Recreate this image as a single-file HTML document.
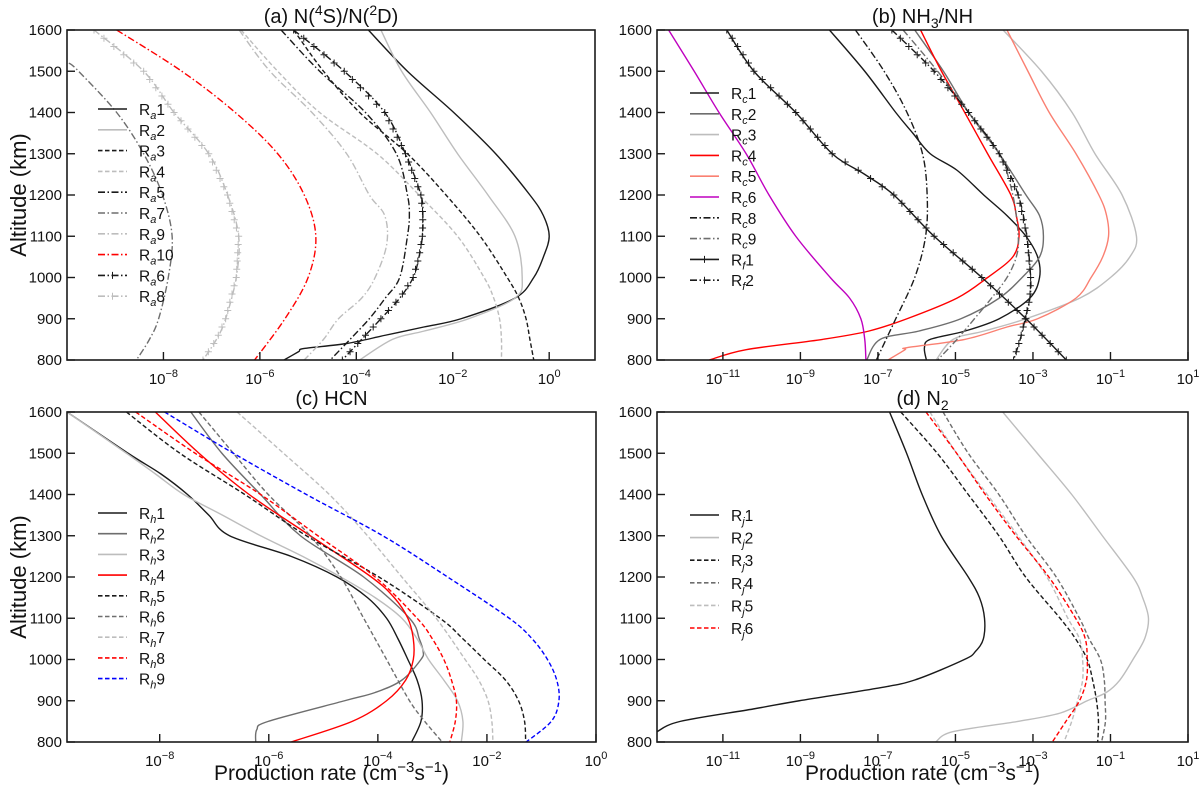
<!DOCTYPE html>
<html><head><meta charset="utf-8"><style>
html,body{margin:0;padding:0;background:#fff}
svg{display:block;font-family:"Liberation Sans","DejaVu Sans",sans-serif}
</style></head><body>
<svg id="chart" width="1200" height="786" viewBox="0 0 1200 786" xmlns="http://www.w3.org/2000/svg"></svg>
<script>
// ---- shared altitude grids ----
const altStd = [1600,1500,1400,1300,1200,1100,1000,900,800];
// ---- panel (a) N(4S)/N(2D) : log10 production rates ----
const ra1Alt = [1600,1500,1400,1300,1200,1150,1100,1050,1000,950,900,880,860,840,828,820,800];
const ra1Val = [-3.75,-2.94,-1.98,-1.11,-0.40,-0.12,0,-0.12,-0.32,-0.71,-1.83,-2.6,-3.4,-4.2,-5.08,-5.2,-5.5];
const ra2Alt = [1600,1500,1400,1300,1200,1100,1000,950,900,870,850,800];
const ra2Val = [-3.49,-3.06,-2.46,-1.9,-1.27,-0.71,-0.56,-0.71,-1.67,-2.6,-3.25,-3.93];
const ra3Alt = [1600,1500,1400,1300,1200,1100,1000,950,900,850,800];
const ra3Val = [-5.3,-4.68,-3.93,-2.94,-2.14,-1.43,-0.87,-0.63,-0.48,-0.40,-0.32];
const ra4Alt = [1600,1500,1400,1300,1200,1100,1000,950,900,850,800];
const ra4Val = [-6.39,-5.63,-4.76,-3.57,-2.70,-1.9,-1.35,-1.15,-1.03,-0.99,-0.99];
const ra5Alt = [1600,1500,1400,1300,1200,1150,1100,1000,950,900,850,800];
const ra5Val = [-5.56,-4.76,-3.81,-3.17,-2.94,-2.9,-2.94,-3.1,-3.4,-3.73,-4.13,-4.54];
const ra6Alt = [1600,1500,1400,1300,1200,1150,1100,1050,1000,950,900,850,800];
const ra6Val = [-5.3,-4.25,-3.41,-2.98,-2.66,-2.62,-2.63,-2.7,-2.82,-3.1,-3.49,-3.89,-4.29];
const ra7Alt = [1520,1500,1400,1300,1200,1100,1000,900,850,800];
const ra7Val = [-9.96,-9.76,-8.97,-8.41,-8.02,-7.82,-7.9,-8.1,-8.29,-8.56];
const ra8Alt = [1600,1500,1400,1300,1200,1100,1000,900,850,800];
const ra8Val = [-9.44,-8.41,-7.78,-7.06,-6.67,-6.44,-6.49,-6.71,-6.9,-7.18];
const ra9Alt = [1600,1500,1400,1300,1200,1150,1080,1000,950,900,850,800];
const ra9Val = [-6.43,-5.79,-4.92,-4.2,-3.73,-3.41,-3.37,-3.61,-3.89,-4.37,-4.68,-5.08];
const ra10Val = [-8.97,-7.62,-6.51,-5.63,-5.08,-4.84,-5.0,-5.48,-6.11];
// ---- panel (b) NH3/NH ----
const rc1Alt = [1600,1500,1400,1350,1300,1260,1200,1150,1100,1050,1000,950,900,870,850,830,800];
const rc1Val = [-8.25,-7.34,-6.54,-6.1,-5.65,-4.96,-4.27,-3.67,-3.18,-2.88,-2.83,-3.08,-3.87,-4.76,-5.65,-5.8,-5.75];
const rc2Alt = [1600,1500,1400,1300,1200,1150,1100,1050,1000,950,900,870,850,800];
const rc2Val = [-6.05,-5.31,-4.66,-3.87,-3.18,-2.83,-2.73,-2.83,-3.28,-3.87,-4.86,-5.95,-6.94,-7.29];
const rc3Alt = [1600,1500,1400,1300,1200,1100,1050,1000,950,900,870,850,800];
const rc3Val = [-3.77,-2.78,-1.99,-1.4,-0.7,-0.33,-0.5,-1.0,-1.79,-3.18,-4.27,-5.06,-5.5];
const rc4Alt = [1600,1500,1400,1300,1200,1150,1100,1050,1000,950,900,870,850,825,800];
const rc4Val = [-5.9,-5.36,-4.76,-4.17,-3.57,-3.43,-3.36,-3.52,-4.17,-4.96,-6.25,-7.24,-8.43,-10.4,-11.35];
const rc5Alt = [1600,1500,1400,1300,1200,1150,1100,1050,1000,950,900,880,850,830,825,800];
const rc5Val = [-3.67,-3.13,-2.58,-1.89,-1.3,-1.1,-1.05,-1.2,-1.5,-1.89,-2.88,-3.67,-4.76,-6.25,-6.3,-6.74];
const rc6Alt = [1600,1500,1400,1300,1200,1100,1000,950,900,850,800];
const rc6Val = [-12.4,-11.74,-11.1,-10.4,-9.81,-9.12,-8.23,-7.73,-7.44,-7.34,-7.31];
const rc8Alt = [1600,1500,1400,1300,1200,1100,1000,900,850,800];
const rc8Val = [-7.58,-6.84,-6.25,-5.85,-5.73,-5.77,-6.05,-6.54,-6.79,-7.04];
const rc9Alt = [1600,1500,1400,1300,1200,1100,1050,1000,950,900,850,800];
const rc9Val = [-6.35,-5.46,-4.66,-3.87,-3.52,-3.38,-3.43,-3.67,-4.07,-4.51,-4.96,-5.46];
const rf1Alt = [1600,1500,1400,1300,1250,1200,1100,1000,900,800];
const rf1Val = [-10.9,-10.2,-9.12,-8.18,-7.34,-6.59,-5.55,-4.32,-3.18,-2.14];
const rf2Alt = [1600,1500,1400,1300,1200,1100,1000,950,900,850,800];
const rf2Val = [-6.64,-5.55,-4.66,-3.87,-3.38,-3.16,-3.06,-3.08,-3.2,-3.33,-3.5];
// ---- panel (c) HCN ----
const rhAlt = [1600,1500,1450,1400,1350,1300,1250,1200,1150,1100,1050,1000,950,900,850,800];
const rh1Val = [-9.7,-8.58,-7.98,-7.49,-7.1,-6.72,-5.59,-4.75,-4.19,-3.84,-3.63,-3.45,-3.28,-3.19,-3.21,-3.38];
const rh3Val = [-9.7,-8.61,-8.08,-7.56,-6.85,-6.15,-5.38,-4.68,-4.05,-3.56,-3.28,-3.07,-2.79,-2.54,-2.44,-2.47];
const rh2Alt = [1600,1500,1400,1300,1200,1100,1050,1020,1000,950,920,900,850,830,800];
const rh2Val = [-7.43,-6.86,-6.15,-5.42,-4.26,-3.42,-3.24,-3.17,-3.21,-3.56,-4.05,-4.61,-6.01,-6.22,-6.24];
const rh4Alt = [1600,1500,1400,1300,1200,1150,1100,1050,1000,950,900,850,800];
const rh4Val = [-8.08,-7.28,-6.36,-5.24,-4.12,-3.7,-3.45,-3.35,-3.35,-3.49,-3.84,-4.47,-5.59];
const rh5Alt = [1600,1500,1400,1300,1200,1100,1050,1000,950,900,850,800];
const rh5Val = [-8.61,-7.63,-6.44,-5.31,-3.98,-2.86,-2.44,-2.05,-1.66,-1.42,-1.31,-1.29];
const rh6Alt = [1600,1500,1400,1300,1200,1100,1000,900,850,800];
const rh6Val = [-7.28,-6.65,-6.01,-5.24,-4.68,-4.26,-3.84,-3.42,-3.14,-2.82];
const rh7Alt = [1600,1500,1400,1300,1200,1100,1000,950,900,850,800];
const rh7Val = [-6.58,-5.73,-4.89,-4.19,-3.56,-2.93,-2.4,-2.15,-1.98,-1.91,-1.89];
const rh8Alt = [1600,1500,1400,1300,1200,1100,1050,1000,950,900,850,800];
const rh8Val = [-8.44,-7.35,-6.15,-5.1,-4.05,-3.28,-3.0,-2.79,-2.65,-2.56,-2.58,-2.68];
const rh9Alt = [1600,1500,1400,1300,1200,1100,1050,1000,950,900,850,800];
const rh9Val = [-7.91,-6.65,-5.31,-3.91,-2.72,-1.59,-1.17,-0.89,-0.72,-0.68,-0.82,-1.28];
// ---- panel (d) N2 ----
const rj1Alt = [1600,1500,1400,1300,1200,1150,1100,1050,1020,1000,950,930,900,880,850,825];
const rj1Val = [-6.7,-6.26,-5.86,-5.37,-4.67,-4.38,-4.25,-4.28,-4.48,-4.77,-6.06,-7.05,-9.03,-10.22,-12.1,-12.7];
const rj2Alt = [1600,1500,1400,1300,1200,1150,1100,1050,1000,950,920,900,870,850,825,800];
const rj2Val = [-3.78,-2.89,-2.0,-1.21,-0.42,-0.17,-0.02,-0.12,-0.42,-0.76,-1.11,-1.6,-2.3,-3.39,-5.07,-5.51];
const rjAlt = [1600,1500,1400,1300,1200,1100,1050,1000,950,900,850,800];
const rj3Val = [-6.41,-5.47,-4.67,-3.88,-3.19,-2.3,-1.9,-1.6,-1.46,-1.36,-1.31,-1.33];
const rj4Val = [-5.32,-4.67,-3.88,-3.19,-2.4,-1.8,-1.55,-1.26,-1.16,-1.14,-1.13,-1.23];
const rj5Val = [-5.66,-4.97,-4.18,-3.39,-2.64,-2.1,-1.8,-1.72,-1.72,-1.85,-2.0,-2.2];
const rj6Val = [-5.76,-4.97,-4.23,-3.44,-2.59,-1.9,-1.65,-1.6,-1.62,-1.8,-2.15,-2.5];
// ---- tick labels ----
const yTicks = [800,900,1000,1100,1200,1300,1400,1500,1600];
const xTicksAC = [-8,-6,-4,-2,0];
const xTicksBD = [-11,-9,-7,-5,-3,-1,1];

const BLK='#1a1a1a', DG='#6e6e6e', LG='#bdbdbd', RED='#ff0000', SAL='#fa8072', MAG='#bf00bf', BLU='#0000ff';
const SOLID=null, DASH='4.5,2.5', DD='7,2.5,1.5,2.5';

const panels = [
 {id:'a', title:['(a) N(','4','S)/N(','2','D)'], x0:67,x1:595,y0:30,y1:360, lmin:-10,lmax:0.95, ticks:xTicksAC, xtitle:false, ytitle:true,
  legX:98, legY:109, legDy:20.8, sub:'a', series:[
  ['1',ra1Alt,ra1Val,BLK,SOLID,false],['2',ra2Alt,ra2Val,LG,SOLID,false],['3',ra3Alt,ra3Val,BLK,DASH,false],
  ['4',ra4Alt,ra4Val,LG,DASH,false],['5',ra5Alt,ra5Val,BLK,DD,false],['7',ra7Alt,ra7Val,DG,DD,false],
  ['9',ra9Alt,ra9Val,LG,DD,false],['10',altStd,ra10Val,RED,DD,false],['6',ra6Alt,ra6Val,BLK,DD,true],['8',ra8Alt,ra8Val,LG,DD,true]]},
 {id:'b', title:['(b) NH','3s','/NH'], x0:657,x1:1188,y0:30,y1:360, lmin:-12.7,lmax:1, ticks:xTicksBD, xtitle:false, ytitle:false,
  legX:690, legY:93, legDy:20.8, sub:'c', series:[
  ['1',rc1Alt,rc1Val,BLK,SOLID,false],['2',rc2Alt,rc2Val,DG,SOLID,false],['3',rc3Alt,rc3Val,LG,SOLID,false],
  ['4',rc4Alt,rc4Val,RED,SOLID,false],['5',rc5Alt,rc5Val,SAL,SOLID,false],['6',rc6Alt,rc6Val,MAG,SOLID,false],
  ['8',rc8Alt,rc8Val,BLK,DD,false],['9',rc9Alt,rc9Val,DG,DD,false],['1',rf1Alt,rf1Val,BLK,SOLID,true,'f'],['2',rf2Alt,rf2Val,BLK,DD,true,'f']]},
 {id:'c', title:['(c) HCN'], x0:67,x1:596,y0:412,y1:742, lmin:-9.7,lmax:0, ticks:xTicksAC, xtitle:true, ytitle:true,
  legX:98, legY:513, legDy:20.7, sub:'h', series:[
  ['1',rhAlt,rh1Val,BLK,SOLID,false],['2',rh2Alt,rh2Val,DG,SOLID,false],['3',rhAlt,rh3Val,LG,SOLID,false],
  ['4',rh4Alt,rh4Val,RED,SOLID,false],['5',rh5Alt,rh5Val,BLK,DASH,false],['6',rh6Alt,rh6Val,DG,DASH,false],
  ['7',rh7Alt,rh7Val,LG,DASH,false],['8',rh8Alt,rh8Val,RED,DASH,false],['9',rh9Alt,rh9Val,BLU,DASH,false]]},
 {id:'d', title:['(d) N','2s'], x0:657,x1:1188,y0:412,y1:742, lmin:-12.7,lmax:1, ticks:xTicksBD, xtitle:true, ytitle:false,
  legX:690, legY:515, legDy:22.6, sub:'j', series:[
  ['1',rj1Alt,rj1Val,BLK,SOLID,false],['2',rj2Alt,rj2Val,LG,SOLID,false],['3',rjAlt,rj3Val,BLK,DASH,false],
  ['4',rjAlt,rj4Val,DG,DASH,false],['5',rjAlt,rj5Val,LG,DASH,false],['6',rjAlt,rj6Val,RED,DASH,false]]}
];

const NS='http://www.w3.org/2000/svg';
const svg=document.getElementById('chart');
function mk(tag,attrs,parent){const e=document.createElementNS(NS,tag);for(const k in attrs)e.setAttribute(k,attrs[k]);(parent||svg).appendChild(e);return e;}

function interp(alts,vals,a){
  for(let i=0;i<alts.length-1;i++){const a0=alts[i],a1=alts[i+1];
    if((a<=a0&&a>=a1)){const t=(a-a0)/(a1-a0);return vals[i]+t*(vals[i+1]-vals[i]);}}
  return null;
}
function smoothPath(pts){
  let d='M'+pts[0][0].toFixed(2)+','+pts[0][1].toFixed(2);
  for(let i=0;i<pts.length-1;i++){
    const p0=pts[Math.max(0,i-1)],p1=pts[i],p2=pts[i+1],p3=pts[Math.min(pts.length-1,i+2)];
    const c1=[p1[0]+(p2[0]-p0[0])/6,p1[1]+(p2[1]-p0[1])/6],c2=[p2[0]-(p3[0]-p1[0])/6,p2[1]-(p3[1]-p1[1])/6];
    d+=' C'+c1[0].toFixed(2)+','+c1[1].toFixed(2)+' '+c2[0].toFixed(2)+','+c2[1].toFixed(2)+' '+p2[0].toFixed(2)+','+p2[1].toFixed(2);
  }
  return d;
}

panels.forEach(p=>{
  const g=mk('g',{});
  
  
  const xs=v=>p.x0+(v-p.lmin)/(p.lmax-p.lmin)*(p.x1-p.x0);
  const ys=a=>p.y1-(a-800)/800*(p.y1-p.y0);
  const cid='clip'+p.id;
  const cp=mk('clipPath',{id:cid},g);mk('rect',{x:p.x0,y:p.y0,width:p.x1-p.x0,height:p.y1-p.y0},cp);
  const sg=mk('g',{'clip-path':'url(#'+cid+')'},g);
  p.series.forEach(s=>{
    const [lab,alts,vals,col,dash,mark,subl]=s;
    const pts=alts.map((a,i)=>[xs(vals[i]),ys(a)]);
    const path=mk('path',{d:smoothPath(pts),fill:'none',stroke:col,'stroke-width':1.4});
    if(dash)path.setAttribute('stroke-dasharray',dash);
    
    
    if(mark){
      for(let a=alts[0];a>=alts[alts.length-1];a-=20){
        const v=interp(alts,vals,a);if(v===null)continue;
        const cx=xs(v),cy=ys(a);
        const m=mk('path',{d:`M${cx-3.5},${cy}H${cx+3.5}M${cx},${cy-3.5}V${cy+3.5}`,stroke:col,'stroke-width':1},sg);
        
        
      }
    }
    sg.appendChild(path);
  });
  const fr=mk('rect',{x:p.x0,y:p.y0,width:p.x1-p.x0,height:p.y1-p.y0,fill:'none',stroke:'#1a1a1a','stroke-width':1.6},g);
  
  
  yTicks.forEach(t=>{
    const y=ys(t);
    mk('line',{x1:p.x0,x2:p.x0+8,y1:y,y2:y,stroke:'#1a1a1a','stroke-width':1.4},g);
    const tx=mk('text',{x:p.x0-5,y:y+5,'text-anchor':'end','font-size':15,fill:'#111'},g);
    tx.textContent=t;
    
    
  });
  p.ticks.forEach(t=>{
    const x=xs(t);
    mk('line',{x1:x,x2:x,y1:p.y1,y2:p.y1-8,stroke:'#1a1a1a','stroke-width':1.4},g);
    const tx=mk('text',{x:x,y:p.y1+24,'text-anchor':'middle','font-size':15,fill:'#111'},g);
    
    
    const a=mk('tspan',{},tx);a.textContent='10';
    const b=mk('tspan',{dy:-7,'font-size':11},tx);b.textContent=(t<0?'\u2212'+(-t):String(t));
  });
  const tt=mk('text',{x:(p.x0+p.x1)/2,y:p.y0-7,'text-anchor':'middle','font-size':20,fill:'#111'},g);
  
  
  let shift=0;
  p.title.forEach((part,i)=>{
    if(part.endsWith('s')&&/^\d/.test(part)){const s=mk('tspan',{dy:5,'font-size':14},tt);s.textContent=part.slice(0,-1);shift=-5;return;}
    if(/^\d$/.test(part)){const s=mk('tspan',{dy:-8,'font-size':14},tt);s.textContent=part;shift=8;return;}
    const s=mk('tspan',{dy:shift},tt);s.textContent=part;shift=0;
  });
  if(p.ytitle){
    const cy=(p.y0+p.y1)/2;
    const yt=mk('text',{x:0,y:0,transform:`translate(26,${cy}) rotate(-90)`,'text-anchor':'middle','font-size':22,fill:'#111'},g);
    yt.textContent='Altitude (km)';
    
    
  }
  if(p.xtitle){
    const xt=mk('text',{x:(p.x0+p.x1)/2,y:780,'text-anchor':'middle','font-size':21,fill:'#111'},g);
    
    
    const a=mk('tspan',{},xt);a.textContent='Production rate (cm';
    const b=mk('tspan',{dy:-8,'font-size':15},xt);b.textContent='\u22123';
    const c=mk('tspan',{dy:8},xt);c.textContent='s';
    const d=mk('tspan',{dy:-8,'font-size':15},xt);d.textContent='\u22121';
    const e=mk('tspan',{dy:8},xt);e.textContent=')';
  }
  const lg=mk('g',{},g);
  
  
  p.series.forEach((s,i)=>{
    const [lab,,,col,dash,mark,subl]=s;
    const y=p.legY+i*p.legDy;
    const eg=mk('g',{},lg);
    
    
    const ln=mk('line',{x1:p.legX,x2:p.legX+29,y1:y,y2:y,stroke:col,'stroke-width':1.6},eg);
    if(dash)ln.setAttribute('stroke-dasharray',dash);
    if(mark)mk('path',{d:`M${p.legX+14.5},${y-3.5}V${y+3.5}`,stroke:col,'stroke-width':1},eg);
    const tx=mk('text',{x:p.legX+41,y:y+6,'font-size':15.5,fill:'#111'},eg);
    const a=mk('tspan',{},tx);a.textContent='R';
    const b=mk('tspan',{dy:4,'font-size':11,'font-style':'italic'},tx);b.textContent=(subl||p.sub);
    const c=mk('tspan',{dy:-4},tx);c.textContent=lab;
  });
});
</script>
</body></html>
